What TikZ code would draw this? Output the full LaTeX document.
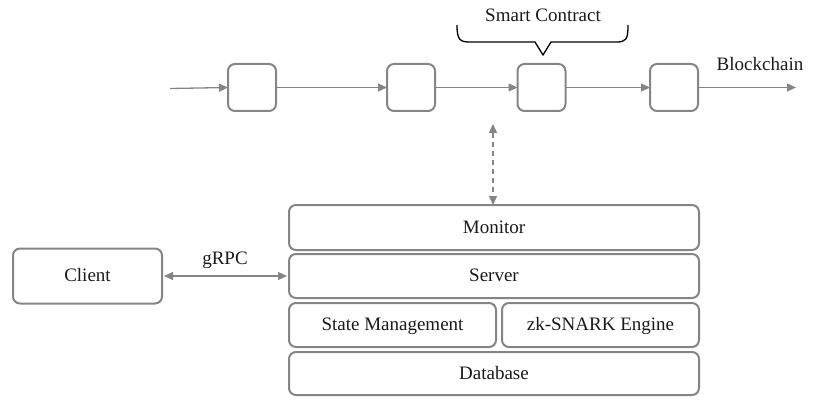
\documentclass[tikz,border=0pt]{standalone}
\usepackage{fontspec}
\setmainfont{Liberation Serif}
\usetikzlibrary{arrows.meta}
\definecolor{edge}{HTML}{858585}
\definecolor{ink}{HTML}{1A1A1A}
\begin{document}
\begin{tikzpicture}[x=1pt,y=-1pt,
  every node/.style={font=\fontsize{19}{22}\selectfont, text=ink},
  blockbox/.style={draw=edge, line width=2pt, rounded corners=7pt, minimum width=48pt, minimum height=47pt, inner sep=0pt, outer sep=0pt},
  layerbox/.style={draw=edge, line width=2pt, rounded corners=7pt, minimum height=44pt, inner sep=0pt, outer sep=0pt, text height=12pt, text depth=1pt},
  link/.style={draw=edge, line width=1.3pt, -{Triangle[length=9pt,width=8pt]}},
  duplex/.style={draw=edge, line width=1.3pt, {Triangle[length=9pt,width=8pt]}-{Triangle[length=9pt,width=8pt]}}
]
\useasboundingbox (0,0) rectangle (839,404);

% chain of blocks
\node[blockbox] (b1) at (252,87.5) {};
\node[blockbox] (b2) at (411,87.5) {};
\node[blockbox] (b3) at (541.5,87.5) {};
\node[blockbox] (b4) at (674,87.5) {};
\coordinate (cin) at (170,88.5);
\coordinate (cout) at (796,87.5);
\draw[link] (cin) -- (b1.west);
\draw[link] (b1.east) -- (b2.west);
\draw[link] (b2.east) -- (b3.west);
\draw[link] (b3.east) -- (b4.west);
\draw[link] (b4.east) -- (cout);
\node (chain) at (760,64) {Blockchain};

% brace over the contract block
\node (sc) at (543,15) {Smart Contract};
\draw[black, line width=1.3pt, line join=round]
  (457,25) .. controls (457,40) and (460,42) .. (470,42)
  -- (535,42) -- (543,55) -- (551,42) -- (616,42)
  .. controls (626,42) and (628,40) .. (628,25);

% server stack
\node[layerbox, minimum width=410pt, minimum height=45pt] (mon) at (494,227.5) {Monitor};
\node[layerbox, minimum width=410pt] (srv) at (494,276) {Server};
\node[layerbox, minimum width=207pt] (state) at (392.5,325) {State Management};
\node[layerbox, minimum width=197pt] (zk) at (600.5,325) {zk-SNARK Engine};
\node[layerbox, minimum width=410pt, minimum height=43pt] (db) at (494,373.5) {Database};

% monitor <-> contract
\coordinate (up) at (493,124);
\coordinate (down) at (mon.north -| up);
\draw[duplex, dashed, dash pattern=on 5pt off 4pt] (up) -- (down);

% client
\node[layerbox, minimum width=149pt, minimum height=55pt] (cl) at (87.5,276) {Client};
\draw[duplex, shorten <=2pt, shorten >=2pt] (cl.east) -- (srv.west);
\node (rpc) at (225,260) {gRPC};
\end{tikzpicture}
\end{document}
